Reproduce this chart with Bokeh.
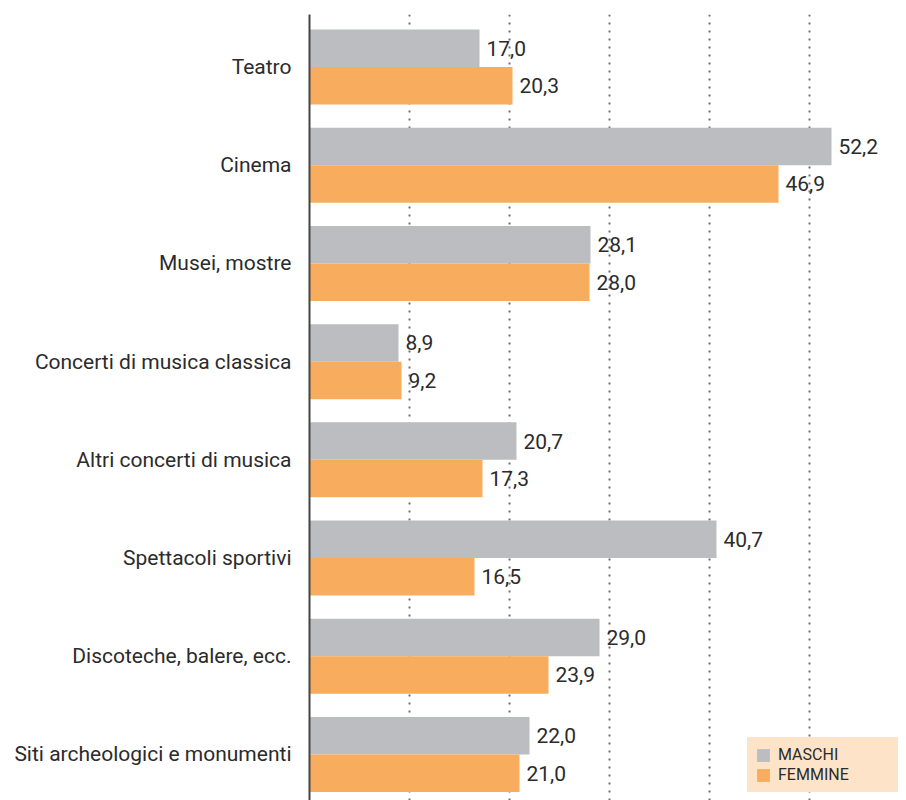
from bokeh.plotting import figure
from bokeh.models import Range1d, FixedTicker, Legend, LegendItem, Label, ColumnDataSource
from bokeh.core.properties import value
from bokeh.embed import file_html
from bokeh.resources import INLINE

title = "SPETTACOLI PER GENERE"
categories = ["Teatro", "Cinema", "Musei, mostre", "Concerti di musica classica",
              "Altri concerti di musica", "Spettacoli sportivi",
              "Discoteche, balere, ecc.", "Siti archeologici e monumenti"]
maschi = [17.0, 52.2, 28.1, 8.9, 20.7, 40.7, 29.0, 22.0]
femmine = [20.3, 46.9, 28.0, 9.2, 17.3, 16.5, 23.9, 21.0]
series_names = ["MASCHI", "FEMMINE"]
grid_ticks = [10, 20, 30, 40, 50]

FONT = "Roboto"
GRAY = "#BCBDC0"
ORANGE = "#F8AC5D"
TXT = "#2b2b2b"
LEG_BG = "#FDE4C8"

W, H = 906, 800
LEFT, TOP = 309, 14
bar_h = 0.382
off = bar_h / 2

p = figure(width=W, height=H, output_backend="svg", toolbar_location=None,
           x_range=Range1d(0, 59.7), y_range=Range1d(7.469, -0.535),
           x_axis_location=None, min_border_left=LEFT, min_border_top=TOP,
           min_border_right=0, min_border_bottom=0, title=None)
p.outline_line_color = None
p.background_fill_color = "white"

idx = list(range(len(categories)))
src_m = ColumnDataSource(dict(y=[i - off for i in idx], v=maschi,
                              t=[f"{v:.1f}".replace(".", ",") for v in maschi]))
src_f = ColumnDataSource(dict(y=[i + off for i in idx], v=femmine,
                              t=[f"{v:.1f}".replace(".", ",") for v in femmine]))

r_m = p.hbar(y="y", right="v", left=0, height=bar_h, source=src_m,
             fill_color=GRAY, line_color=None)
r_f = p.hbar(y="y", right="v", left=0, height=bar_h, source=src_f,
             fill_color=ORANGE, line_color=None)

for src in (src_m, src_f):
    p.text(x="v", y="y", text="t", source=src, x_offset=7,
           text_baseline="middle", text_align="left",
           text_font=value(FONT), text_font_size="21px", text_color=TXT)

# grid
p.xgrid.ticker = FixedTicker(ticks=grid_ticks)
p.xgrid.grid_line_color = "#6f6f6f"
p.xgrid.grid_line_width = 2
p.xgrid.grid_line_dash = "2 6"
p.xgrid.level = "underlay"
p.ygrid.grid_line_color = None

# y axis
ya = p.yaxis[0]
ya.ticker = FixedTicker(ticks=idx)
ya.major_label_overrides = {i: c for i, c in enumerate(categories)}
ya.major_tick_line_color = None
ya.minor_tick_line_color = None
ya.axis_line_color = "#454545"
ya.axis_line_width = 2
ya.major_label_standoff = 12
ya.major_label_text_font = FONT
ya.major_label_text_font_size = "21px"
ya.major_label_text_color = TXT

legend = Legend(items=[LegendItem(label=series_names[0], renderers=[r_m]),
                       LegendItem(label=series_names[1], renderers=[r_f])],
                location="bottom_right", margin=8, padding=0,
                glyph_width=16, glyph_height=16, label_height=16,
                label_width=112, label_standoff=7, spacing=1,
                background_fill_color=LEG_BG, background_fill_alpha=1,
                border_line_color=LEG_BG, border_line_width=8,
                label_text_font=FONT, label_text_line_height=1.0,
                label_text_font_size="16px", label_text_color=TXT)
p.add_layout(legend, "center")

p.add_layout(Label(x=-29.9, y=-0.642, text=title, text_font=FONT,
                   text_font_style="bold", text_font_size="20px",
                   text_color="#1a1a1a", text_baseline="alphabetic"))

open("out.html", "w").write(file_html(p, INLINE))
